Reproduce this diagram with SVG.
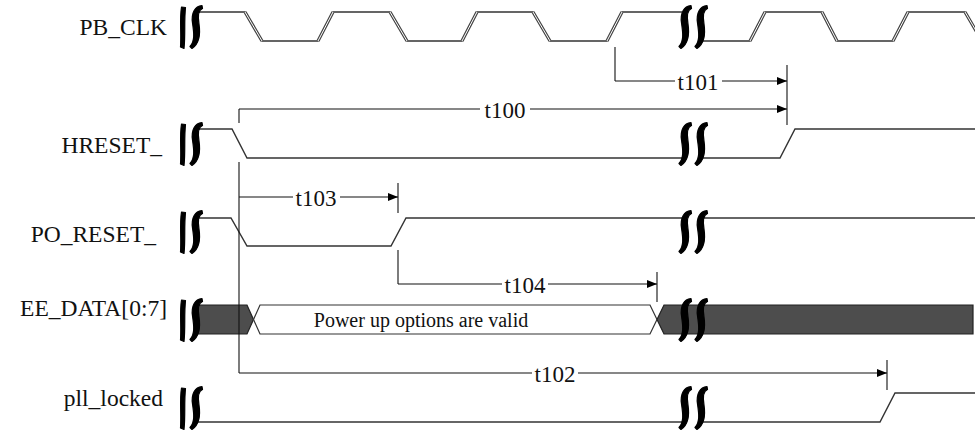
<svg xmlns="http://www.w3.org/2000/svg" xmlns:xlink="http://www.w3.org/1999/xlink" width="975" height="431" viewBox="0 0 975 431">
<style>
  .lbl { font-family: "Liberation Serif", "Times New Roman", serif; font-size: 23.5px; fill: #111; text-anchor: end; }
  .tl { font-family: "Liberation Serif", "Times New Roman", serif; font-size: 23px; fill: #111; text-anchor: middle; dominant-baseline: central; }
  .sig { fill: none; stroke: #333; stroke-width: 1.4; stroke-linejoin: miter; }
  .edge { fill: none; stroke: #444; stroke-width: 3.2; }
  .edgein { fill: none; stroke: #fff; stroke-width: 1; }
  .tm { fill: none; stroke: #111; stroke-width: 1.1; }
  .brk { fill: #000; stroke: #000; stroke-width: 1.2; stroke-linejoin: round; }
  .bus { fill: #4d4d4d; stroke: #222; stroke-width: 1.2; }
  .valid { fill: #fff; stroke: #333; stroke-width: 1.2; }
</style>
<defs>
  <path id="s" class="brk" d="M 6,-21.5 C -1,-21 -5,-14 -3.5,-4 C -2,6 -1,14 -6,19.5 L -4,21.5 C 4,16 4.5,7 3,-3 C 1.5,-12 2.5,-17 6.5,-18.5 Z"/>
  <path id="s0" class="brk" d="M -1.5,-20 C -3.5,-8 -1.5,6 -2.5,20 L 1,21.5 C 2.5,8 1,-6 2.5,-19.5 Z"/>
  <marker id="arr" viewBox="0 0 10 8" refX="10" refY="4" markerWidth="10" markerHeight="8" markerUnits="userSpaceOnUse" orient="auto">
    <path d="M0,0 L10,4 L0,8 z" fill="#000"/>
  </marker>
</defs>

<g id="labels">
  <text class="lbl" x="167" y="35">PB_CLK</text>
  <text class="lbl" x="162" y="153">HRESET_</text>
  <text class="lbl" x="156" y="242">PO_RESET_</text>
  <text class="lbl" x="167" y="316">EE_DATA[0:7]</text>
  <text class="lbl" x="163" y="406">pll_locked</text>
</g>

<g id="pb_clk">
  <polyline class="sig" points="198,12 245,12 262,41 318,41 333,12 390,12 407,41 462,41 477,12 533,12 550,41 607,41 622,12 682,12"/>
  <polyline class="sig" points="703,41 750,41 765,12 822,12 837,41 893,41 908,12 965,12 982,41"/>
  <g>
    <path class="edge" d="M245,12 L262,41 M318,41 L333,12 M390,12 L407,41 M462,41 L477,12 M533,12 L550,41 M607,41 L622,12 M750,41 L765,12 M822,12 L837,41 M893,41 L908,12 M965,12 L982,41"/>
    <path class="edgein" d="M245,12 L262,41 M318,41 L333,12 M390,12 L407,41 M462,41 L477,12 M533,12 L550,41 M607,41 L622,12 M750,41 L765,12 M822,12 L837,41 M893,41 L908,12 M965,12 L982,41"/>
  </g>
  <use href="#s0" x="183" y="27"/>
  <use href="#s" x="196" y="27"/>
  <use href="#s" x="685" y="27"/>
  <use href="#s" x="701" y="27"/>
</g>

<g id="hreset">
  <polyline class="sig" points="198,129 232,129 247,158 682,158"/>
  <polyline class="sig" points="703,158 780,158 795,129 975,129"/>
  <use href="#s0" x="183" y="144"/>
  <use href="#s" x="196" y="144"/>
  <use href="#s" x="685" y="144"/>
  <use href="#s" x="701" y="144"/>
</g>

<g id="po_reset">
  <polyline class="sig" points="198,218 231,218 247,246 391,246 406,218 682,218"/>
  <polyline class="sig" points="703,218 975,218"/>
  <use href="#s0" x="183" y="232"/>
  <use href="#s" x="196" y="232"/>
  <use href="#s" x="685" y="232"/>
  <use href="#s" x="701" y="232"/>
</g>

<g id="ee_data">
  <polygon class="bus" points="196,305 247,305 253.5,319.5 247,334 196,334"/>
  <polygon class="valid" points="253.5,319.5 260,305 650,305 657,319.5 650,334 260,334"/>
  <polygon class="bus" points="657,319.5 664,305 973,305 973,334 664,334"/>
  <text x="421" y="320" font-family="'Liberation Serif', 'Times New Roman', serif" font-size="20" fill="#111" text-anchor="middle" dominant-baseline="central">Power up options are valid</text>
  <use href="#s0" x="183" y="320"/>
  <use href="#s" x="196" y="320"/>
  <use href="#s" x="685" y="320"/>
  <use href="#s" x="701" y="320"/>
</g>

<g id="pll_locked">
  <polyline class="sig" points="198,422 682,422"/>
  <polyline class="sig" points="703,422 880,422 895,393 975,393"/>
  <use href="#s0" x="183" y="408"/>
  <use href="#s" x="196" y="408"/>
  <use href="#s" x="685" y="408"/>
  <use href="#s" x="701" y="408"/>
</g>

<g id="connectors">
  <line class="tm" x1="239" y1="109" x2="239" y2="123"/>
  <line class="tm" x1="239" y1="162" x2="239" y2="373"/>
  <line class="tm" x1="239" y1="109" x2="480" y2="109"/>
  <line class="tm" x1="530" y1="109" x2="787" y2="109" marker-end="url(#arr)"/>
  <text class="tl" x="505" y="110">t100</text>
  <line class="tm" x1="615" y1="47" x2="615" y2="81"/>
  <line class="tm" x1="615" y1="81" x2="675" y2="81"/>
  <line class="tm" x1="722" y1="81" x2="787" y2="81" marker-end="url(#arr)"/>
  <text class="tl" x="698" y="82">t101</text>
  <line class="tm" x1="787" y1="65" x2="787" y2="125"/>
  <line class="tm" x1="239" y1="197" x2="293" y2="197"/>
  <line class="tm" x1="340" y1="197" x2="398" y2="197" marker-end="url(#arr)"/>
  <text class="tl" x="316" y="198">t103</text>
  <line class="tm" x1="398" y1="183" x2="398" y2="213"/>
  <line class="tm" x1="398" y1="250" x2="398" y2="284"/>
  <line class="tm" x1="398" y1="284" x2="502" y2="284"/>
  <line class="tm" x1="548" y1="284" x2="657" y2="284" marker-end="url(#arr)"/>
  <text class="tl" x="525" y="285">t104</text>
  <line class="tm" x1="657" y1="272" x2="657" y2="302"/>
  <line class="tm" x1="239" y1="373" x2="532" y2="373"/>
  <line class="tm" x1="578" y1="373" x2="887" y2="373" marker-end="url(#arr)"/>
  <text class="tl" x="555" y="374">t102</text>
  <line class="tm" x1="887" y1="360" x2="887" y2="390"/>
</g>
</svg>
